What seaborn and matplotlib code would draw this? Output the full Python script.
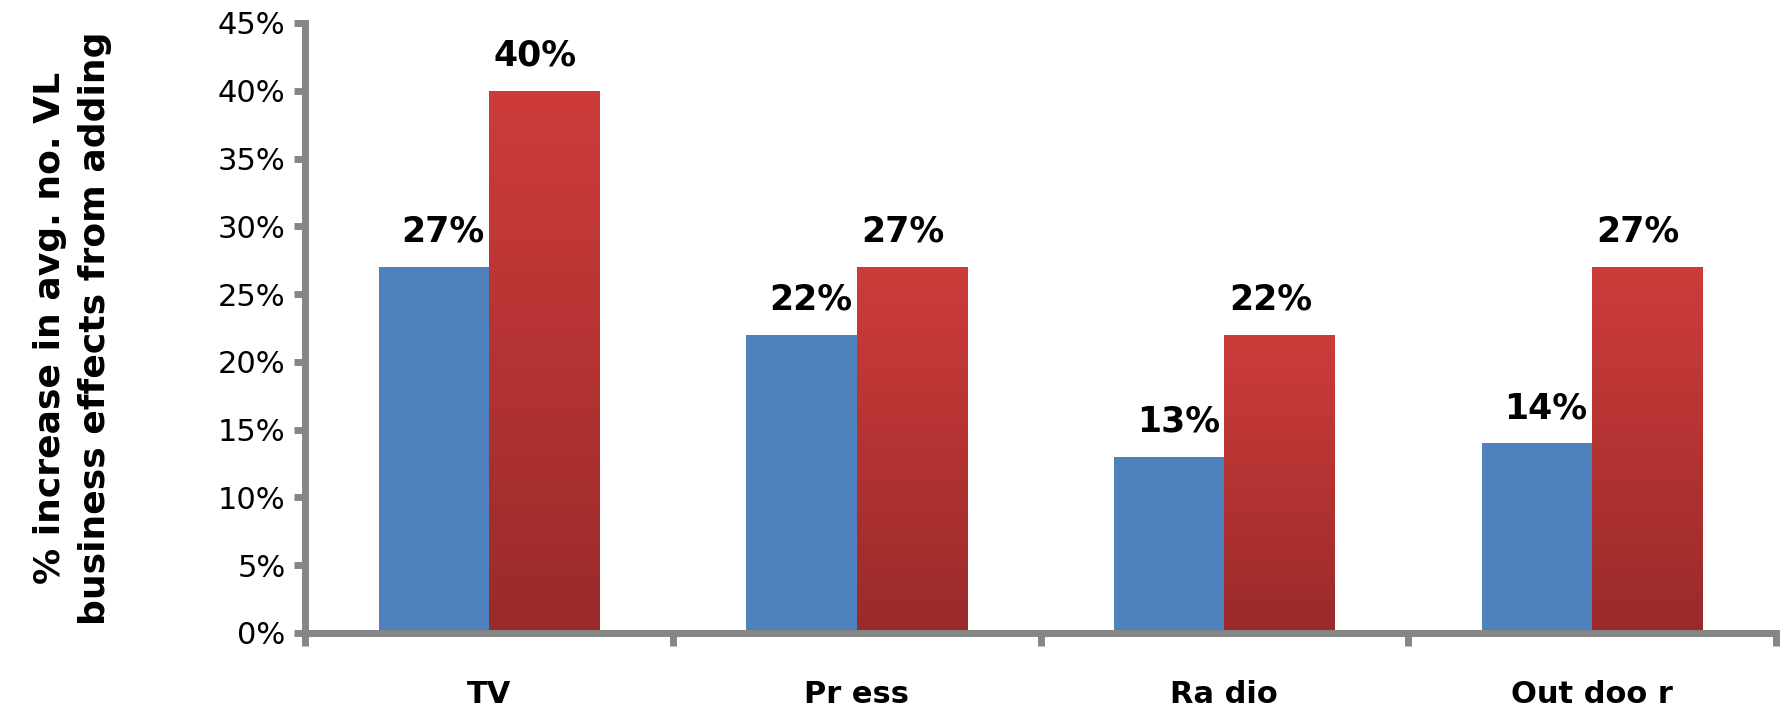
import numpy as np
import pandas as pd
import matplotlib
matplotlib.use("Agg")
import matplotlib.pyplot as plt
import seaborn as sns
from matplotlib.ticker import FixedLocator, FuncFormatter
from matplotlib.colors import LinearSegmentedColormap

categories = ["TV", "Press", "Radio", "Outdoor"]
cat_labels = ["TV", "Pr ess", "Ra dio", "Out doo r"]
series_names = ["Series 1", "Series 2"]
series1 = [27, 22, 13, 14]
series2 = [40, 27, 22, 27]

df = pd.DataFrame({
    "category": categories * 2,
    "series": [series_names[0]] * 4 + [series_names[1]] * 4,
    "value": [v / 100 for v in series1 + series2],
})

sns.set_theme(style="white")
plt.rcParams["font.family"] = ["DejaVu Sans"]

W, H = 1783, 714
fig = plt.figure(figsize=(W / 100, H / 100), dpi=100)
ax = fig.add_axes([305 / W, 1 - 633 / H, (1776 - 305) / W, (633 - 23) / H])

blue = "#4F81BD"
red = "#C0504D"
sns.barplot(data=df, x="category", y="value", hue="series", order=categories,
            hue_order=series_names, palette=[blue, red], width=0.6,
            saturation=1, ax=ax, legend=False, errorbar=None)

# vertical gradient on red bars
cmap = LinearSegmentedColormap.from_list("redgrad", ["#9A2A2A", "#CD3C3B"])
grad = np.linspace(0, 1, 256).reshape(-1, 1)
red_patches = ax.containers[1].patches
for p in red_patches:
    x0, y0 = p.get_x(), p.get_y()
    w, h = p.get_width(), p.get_height()
    im = ax.imshow(grad, extent=[x0, x0 + w, y0, y0 + h], origin="lower",
                   aspect="auto", cmap=cmap, zorder=p.get_zorder() + 0.1)
    im.set_clip_path(p)

for cont in ax.containers:
    for p in cont.patches:
        p.set_edgecolor("none")

ax.set_xlim(-0.5, 3.5)
ax.set_ylim(0, 0.45)

# data labels
shifts = [0.025, -0.025]
for cont, dx in zip(ax.containers, shifts):
    for p in cont.patches:
        v = p.get_height()
        ax.annotate(f"{v*100:.0f}%", (p.get_x() + p.get_width() / 2 + dx, v),
                    xytext=(0, 13), textcoords="offset points",
                    ha="center", va="bottom", fontsize=25, fontweight="bold",
                    color="black", zorder=5)

gray = "#868686"
for side in ["top", "right"]:
    ax.spines[side].set_visible(False)
for side in ["left", "bottom"]:
    ax.spines[side].set_color(gray)
    ax.spines[side].set_linewidth(5)
    ax.spines[side].set_zorder(6)

ax.yaxis.set_major_locator(FixedLocator(np.arange(0, 0.451, 0.05)))
ax.yaxis.set_major_formatter(FuncFormatter(lambda v, _: f"{v*100:.0f}%"))
ax.tick_params(axis="y", which="major", direction="out", length=8, width=5,
               color=gray, labelsize=22, pad=6, left=True, labelcolor="black")

ax.set_xticks(range(4))
ax.set_xticklabels(cat_labels, fontsize=22, fontweight="bold")
ax.tick_params(axis="x", which="major", length=0, pad=34, labelcolor="black")
ax.xaxis.set_minor_locator(FixedLocator(np.arange(-0.5, 3.6, 1.0)))
ax.tick_params(axis="x", which="minor", direction="out", length=9, width=5,
               color=gray, bottom=True)

ax.set_xlabel("")
ax.set_ylabel("% increase in avg. no. VL\nbusiness effects from adding",
              fontsize=26, fontweight="bold", labelpad=76, linespacing=1.42,
              color="black")

fig.savefig("out.png", dpi=100, facecolor="white")
